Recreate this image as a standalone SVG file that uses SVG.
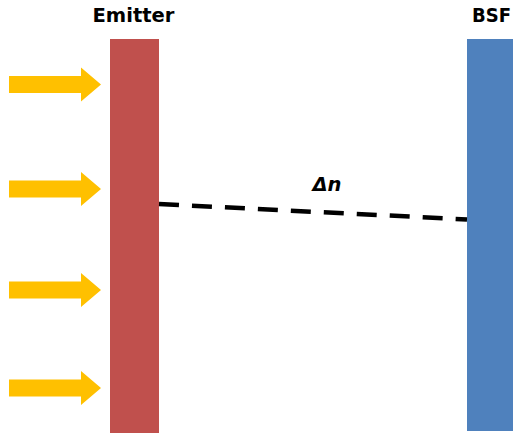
<svg xmlns="http://www.w3.org/2000/svg" width="513" height="433" viewBox="0 0 513 433">
<defs>
<style>
.lbl{font-family:"DejaVu Sans","Liberation Sans",Arial,sans-serif;font-weight:bold;font-size:19.5px;fill:#000;text-anchor:middle}
.arr{fill:#FFC000}
</style>
<path id="arrow" class="arr" d="M9,-8.5 H81 V-17 L101,0 L81,17 V8.5 H9 Z"/>
</defs>
<rect width="513" height="433" fill="#fff"/>
<g id="emitter">
<rect x="110" y="39" width="49" height="394" fill="#C0504D"/>
<text class="lbl" x="133.5" y="22" textLength="82" lengthAdjust="spacingAndGlyphs">Emitter</text>
</g>
<g id="bsf">
<rect x="467" y="39" width="46" height="392" fill="#4F81BD"/>
<text class="lbl" x="491.5" y="22" textLength="39" lengthAdjust="spacingAndGlyphs">BSF</text>
</g>
<g id="arrows">
<use href="#arrow" y="84.5"/>
<use href="#arrow" y="189"/>
<use href="#arrow" y="290"/>
<use href="#arrow" y="388"/>
</g>
<g id="connectors">
<line x1="159" y1="204" x2="467" y2="219.5" stroke="#000" stroke-width="4.5" stroke-dasharray="20 13"/>
<text class="lbl" x="327" y="191" font-style="italic" textLength="29" lengthAdjust="spacingAndGlyphs">Δn</text>
</g>
</svg>
